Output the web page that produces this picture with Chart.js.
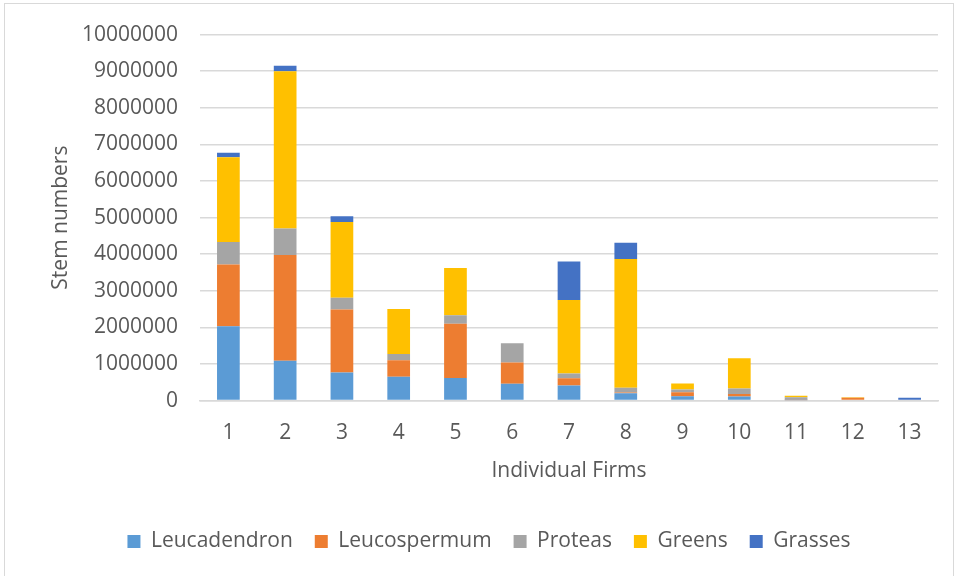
<!DOCTYPE html>
<html>
<head>
<meta charset="utf-8">
<script src="https://cdn.jsdelivr.net/npm/chart.js@4/dist/chart.umd.min.js"></script>
<style>
  body { margin: 0; background: #fff; }
  #frame { position: absolute; left: 4px; top: 3px; width: 948px; height: 580px; border: 1px solid #d9d9d9; }
  #wrap { position: absolute; left: 0; top: 0; width: 957px; height: 576px; }
</style>
</head>
<body>
<div id="frame"></div>
<div id="wrap"><canvas id="myChart"></canvas></div>
<script>
// firms 1..13
let firms = ['1', '2', '3', '4', '5', '6', '7', '8', '9', '10', '11', '12', '13']
let leucadendron = [2030000, 1090000, 770000, 650000, 620000, 460000, 410000, 200000, 120000, 110000, 10000, 0, 0]
let leucospermum = [1690000, 2890000, 1720000, 450000, 1480000, 580000, 200000, 20000, 110000, 70000, 10000, 80000, 0]
let proteas = [610000, 720000, 320000, 170000, 230000, 530000, 130000, 130000, 70000, 150000, 70000, 0, 0]
let greens = [2320000, 4300000, 2070000, 1230000, 1290000, 0, 2010000, 3520000, 170000, 830000, 40000, 10000, 0]
let grasses = [120000, 150000, 160000, 0, 0, 0, 1050000, 440000, 0, 0, 0, 0, 80000]
let yTicks = [0, 1000000, 2000000, 3000000, 4000000, 5000000, 6000000, 7000000, 8000000, 9000000, 10000000]

let font = "'Open Sans', sans-serif"
let grey = '#595959'

function makeSet(label, data, color) {
    return {
        label: label,
        data: data,
        backgroundColor: color,
        borderWidth: 0,
        barPercentage: 0.4,
        categoryPercentage: 1.0
    }
}

function renderChart() {
    let ctx = document.getElementById('myChart').getContext('2d');
    let myChart = new Chart(ctx, {
        type: 'bar',
        data: {
            labels: firms,
            datasets: [
                makeSet('Leucadendron', leucadendron, '#5B9BD5'),
                makeSet('Leucospermum', leucospermum, '#ED7D31'),
                makeSet('Proteas', proteas, '#A5A5A5'),
                makeSet('Greens', greens, '#FFC000'),
                makeSet('Grasses', grasses, '#4472C4')
            ]
        },
        options: {
            maintainAspectRatio: false,
            responsive: true,
            animation: false,
            layout: { padding: { left: 40, right: 19, top: 29, bottom: 14 } },
            scales: {
                x: {
                    stacked: true,
                    grid: { display: false, drawTicks: false },
                    border: { color: '#d9d9d9', width: 1.5 },
                    ticks: { color: grey, font: { family: font, size: 21 }, padding: 20, maxRotation: 0 },
                    title: { display: true, text: 'Individual Firms', color: grey, font: { family: font, size: 21 }, padding: { top: -7, bottom: 25 } }
                },
                y: {
                    stacked: true,
                    min: 0,
                    max: 10000000,
                    afterBuildTicks: function (scale) {
                        scale.ticks = yTicks.map(v => ({ value: v }))
                    },
                    afterFit: function (scale) { scale.width = 160 },
                    grid: { color: '#d9d9d9', lineWidth: 1.5, drawTicks: false },
                    border: { display: false },
                    ticks: { color: grey, font: { family: font, size: 21 }, padding: 22, callback: v => String(v) },
                    title: { display: true, text: 'Stem numbers', color: grey, font: { family: font, size: 21 }, padding: { top: 8, bottom: 0 } }
                }
            },
            plugins: {
                legend: {
                    display: true,
                    position: 'bottom',
                    labels: {
                        color: grey,
                        font: { family: font, size: 21 },
                        boxWidth: 13,
                        boxHeight: 13,
                        padding: 22
                    }
                },
                tooltip: { enabled: false }
            }
        }
    });
}

renderChart();
</script>
</body>
</html>
